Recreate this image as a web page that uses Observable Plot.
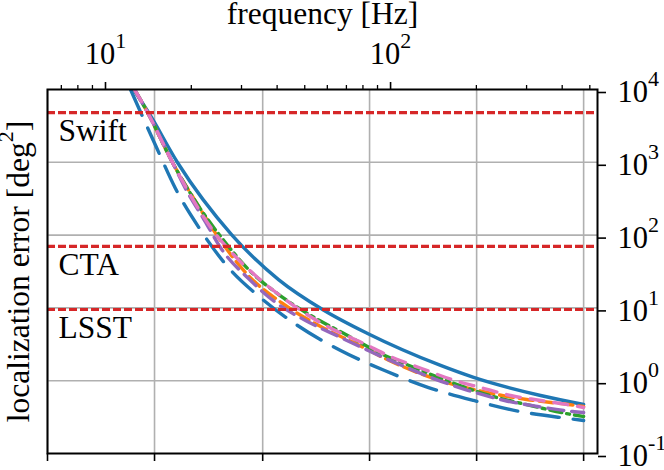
<!DOCTYPE html>
<html><head><meta charset="utf-8">
<script src="https://cdn.jsdelivr.net/npm/d3@7"></script>
<script src="https://cdn.jsdelivr.net/npm/@observablehq/plot@0.6"></script>
<style>
html,body{margin:0;padding:0;background:#fff;}
#chart{width:664px;height:470px;}
</style></head><body><div id="chart"></div>
<script>
// ---- data ----
const freqDomain = [6.26, 532];
const errDomain = [0.1, 10000];
const topMajorTicks = [10, 100];
const topMinorTicks = [7, 8, 9, 20, 30, 40, 50, 60, 70, 80, 90, 200, 300, 400, 500];
const bottomTicks = [6.26, 14.86, 35.6, 84.4, 200.4, 475.6];
const yTicks = [0.1, 1, 10, 100, 1000, 10000];
const yGrid = [1, 10, 100, 1000];
const thresholdNames = ["Swift", "CTA", "LSST"];
const thresholdValues = [4800, 70, 9.5];

const freqSolid = [12.54, 14.16, 17.89, 27.68, 40.46, 57.73, 83.05, 149.8, 195.6, 336.0, 475.6];
const errSolid  = [10000, 4831, 993.8, 101.9, 24.5, 9.51, 4.45, 1.62, 1.11, 0.626, 0.471];

const freqLongDash = [12.24, 15.1, 17.6, 21.37, 26.8, 35.27, 47.2, 66.8, 95.3, 135.9, 195.6, 283.6, 417.9, 475.6];
const errLongDash  = [10000, 1597, 436.7, 123.2, 37.0, 13.46, 5.73, 2.60, 1.38, 0.806, 0.535, 0.378, 0.303, 0.284];

const freqOrange = [12.64, 14.05, 17.18, 21.02, 25.32, 30.99, 42.81, 57.73, 74.17, 102.4, 145.0, 210.3, 300.1, 421.3, 475.6];
const errOrange  = [10000, 4831, 993.8, 263.3, 84.3, 30.64, 10.79, 5.38, 3.35, 1.78, 1.04, 0.711, 0.552, 0.471, 0.442];

const freqGreen = [12.64, 14.05, 17.18, 21.72, 26.16, 31.49, 41.45, 56.36, 70.66, 90.77, 123.4, 163.7, 222.6, 309.9, 431.6, 475.6];
const errGreen  = [10000, 4831, 993.8, 217.7, 81.7, 34.8, 14.3, 6.71, 4.18, 2.44, 1.47, 0.945, 0.626, 0.456, 0.343, 0.322];

const freqPurple = [12.64, 14.05, 17.18, 19.24, 22.26, 25.73, 31.75, 39.50, 50.32, 65.69, 86.47, 107.5, 141.6, 187.8, 251.2, 328.0, 435.1, 475.6];
const errPurple  = [10000, 4831, 993.8, 409.9, 158.7, 61.4, 25.3, 11.9, 6.71, 4.05, 2.44, 1.67, 1.07, 0.733, 0.535, 0.442, 0.378, 0.366];

const freqPink = [12.64, 14.05, 17.18, 24.13, 28.13, 34.15, 41.45, 51.55, 64.12, 79.10, 101.6, 128.5, 163.7, 207.0, 263.7, 336.0, 435.1, 475.6];
const errPink  = [10000, 4831, 993.8, 108.6, 54.1, 26.2, 14.3, 7.86, 4.89, 3.35, 2.08, 1.47, 1.04, 0.806, 0.626, 0.535, 0.456, 0.428];

// ---- styles ----
const series = [
  {f: freqSolid, e: errSolid, color: "#1f77b4", dash: null},
  {f: freqLongDash, e: errLongDash, color: "#1f77b4", dash: "28,14"},
  {f: freqOrange, e: errOrange, color: "#ff7f0e", dash: "14,6"},
  {f: freqGreen, e: errGreen, color: "#2ca02c", dash: "12,5,3,5"},
  {f: freqPurple, e: errPurple, color: "#9467bd", dash: "16,8"},
  {f: freqPink, e: errPink, color: "#e377c2", dash: "14,10"}
];

const FONT = "'Liberation Serif', 'Times New Roman', serif";
const LABEL_SIZE = 31.5;
const TICK_SIZE = 30.5;
const expFmt = d => `10^${Math.round(Math.log10(d))}`;

const lineMarks = series.map(s => Plot.line(d3.zip(s.f, s.e), {
  x: d => d[0], y: d => d[1], stroke: s.color, strokeWidth: 3.4,
  strokeDasharray: s.dash || undefined, curve: "monotone-x", clip: true
}));

const chart = Plot.plot({
  width: 664, height: 470,
  marginTop: 89, marginLeft: 47, marginRight: 67, marginBottom: 17,
  x: {type: "log", domain: freqDomain, label: null},
  y: {type: "log", domain: errDomain, label: null},
  style: {fontFamily: FONT, fontSize: "30px", color: "black", background: "white", overflow: "visible"},
  marks: [
    Plot.gridX(bottomTicks, {stroke: "#b0b0b0", strokeOpacity: 1, strokeWidth: 1.6}),
    Plot.gridY(yGrid, {stroke: "#b0b0b0", strokeOpacity: 1, strokeWidth: 1.6}),
    ...lineMarks,
    Plot.ruleY(thresholdValues, {stroke: "#d62728", strokeWidth: 3.2, strokeDasharray: "8,3"}),
    Plot.text(thresholdValues, {y: d => d, text: (d, i) => thresholdNames[i], frameAnchor: "left",
      textAnchor: "start", lineAnchor: "top", dx: 11, dy: 6, fontSize: LABEL_SIZE, fill: "black"}),
    Plot.axisX({anchor: "top", ticks: topMajorTicks, tickSize: 8, tickPadding: 18, tickFormat: expFmt,
      label: null, fontSize: TICK_SIZE, strokeWidth: 1.6}),
    Plot.axisX({anchor: "top", ticks: topMinorTicks, tickSize: 5, tickFormat: () => "", label: null, strokeWidth: 1.3}),
    Plot.axisX({anchor: "bottom", ticks: bottomTicks, tickSize: 8, tickFormat: () => "", label: null, strokeWidth: 1.6}),
    Plot.axisY({anchor: "right", ticks: yTicks, tickSize: 8, tickPadding: 12, tickFormat: expFmt,
      label: null, fontSize: TICK_SIZE, strokeWidth: 1.6, dy: 3}),
    Plot.frame({stroke: "black", strokeWidth: 2}),
    Plot.text(["frequency [Hz]"], {frameAnchor: "top", lineAnchor: "bottom", dy: -65.5, fontSize: LABEL_SIZE, fill: "black"}),
    Plot.text(["localization error [deg^2]"], {frameAnchor: "left", textAnchor: "middle", rotate: -90, dx: -29,
      fontSize: LABEL_SIZE, fill: "black"})
  ]
});

// superscripts
const NS = "http://www.w3.org/2000/svg";
chart.querySelectorAll("text").forEach(t => {
  const s = t.textContent;
  const m = s.match(/^([^^]*)\^(-?\d+)(.*)$/);
  if (!m) return;
  t.textContent = "";
  const a = document.createElementNS(NS, "tspan"); a.textContent = m[1]; t.appendChild(a);
  const b = document.createElementNS(NS, "tspan"); b.textContent = m[2];
  b.setAttribute("dy", "-16"); b.setAttribute("font-size", "22"); t.appendChild(b);
  if (m[3]) {
    const c = document.createElementNS(NS, "tspan"); c.textContent = m[3];
    c.setAttribute("dy", "16"); t.appendChild(c);
  }
});

document.getElementById("chart").appendChild(chart);
</script></body></html>
